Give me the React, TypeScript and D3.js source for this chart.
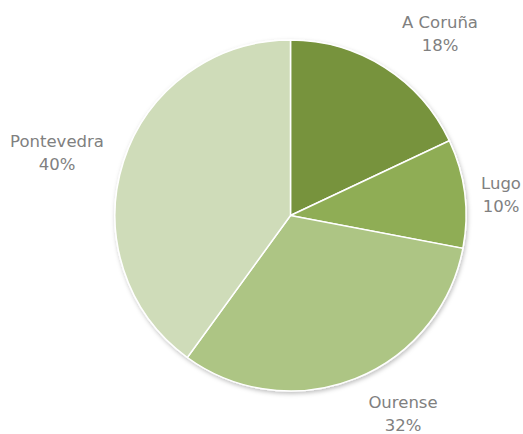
import React from "react";
import * as d3 from "d3";

const categories = ["A Coruña", "Lugo", "Ourense", "Pontevedra"];
const values = [18, 10, 32, 40];
const colors = ["#77933c", "#8fad55", "#adc584", "#cfdcb9"];
const labelPos: [number, number][] = [[440, 22], [501, 183], [403, 402], [57, 141]];

export default function App() {
  const W = 523, H = 434;
  const cx = 290.5, cy = 215.5, r = 175.5;
  const pie = d3.pie<number>().sort(null).value((d) => d);
  const arcs = pie(values);
  const arc = d3.arc<d3.PieArcDatum<number>>().innerRadius(0).outerRadius(r);
  return (
    <svg width={W} height={H} style={{ position: "absolute", left: 0, top: 0 }}>
      <defs>
        <filter id="sh" x="-20%" y="-20%" width="140%" height="140%">
          <feDropShadow dx="1" dy="2" stdDeviation="2" floodColor="#000" floodOpacity="0.25" />
        </filter>
      </defs>
      <rect width={W} height={H} fill="#fff" />
      <g transform={`translate(${cx},${cy})`} filter="url(#sh)">
        {arcs.map((a, i) => (
          <path key={i} d={arc(a) || ""} fill={colors[i]} stroke="#fff" strokeWidth={1.5} />
        ))}
      </g>
      {categories.map((c, i) => (
        <text key={c} x={labelPos[i][0]} y={labelPos[i][1]} textAnchor="middle"
          fontFamily="'DejaVu Sans', sans-serif" fontSize={16.5} fill="#808080">
          <tspan x={labelPos[i][0]} dy="0.35em">{c}</tspan>
          <tspan x={labelPos[i][0]} dy="1.42em">{values[i]}%</tspan>
        </text>
      ))}
    </svg>
  );
}
